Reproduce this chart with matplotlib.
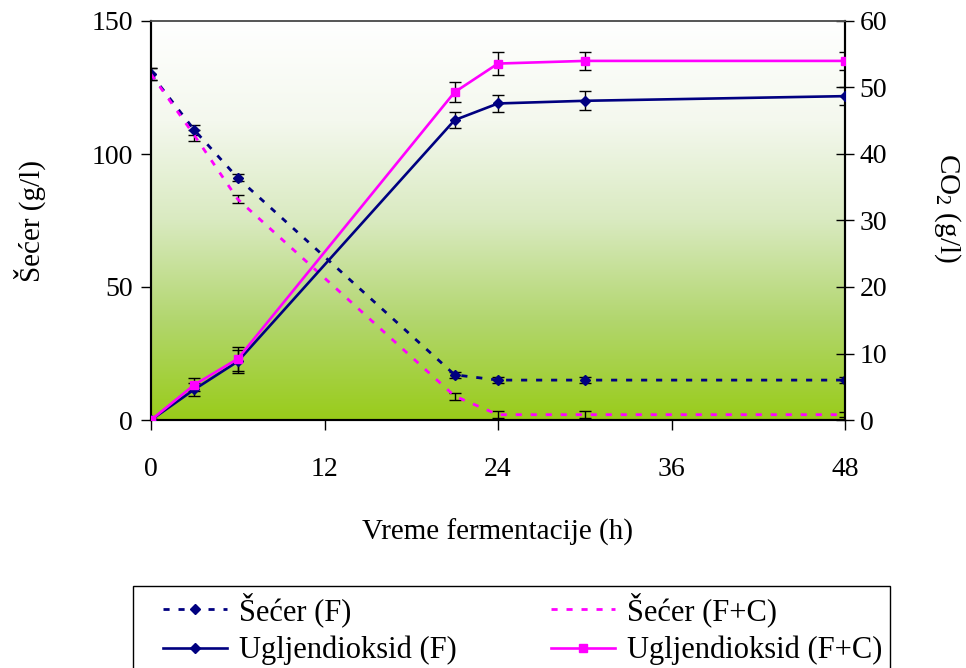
import numpy as np
import matplotlib
matplotlib.use("Agg")
import matplotlib.pyplot as plt
from matplotlib.colors import LinearSegmentedColormap
from matplotlib.patches import Rectangle

plt.rcParams['font.family'] = ['Liberation Serif', 'DejaVu Serif']
plt.rcParams['mathtext.fontset'] = 'custom'
plt.rcParams['mathtext.rm'] = 'Liberation Serif'

# Fermentation time (h)
hours = [0, 3, 6, 21, 24, 30, 48]

# Sugar (g/l)
sugar_f = [130, 109, 91, 17, 15, 15, 15]
sugar_f_err = [2.2, 2.0, 1.3, 1.2, 1.0, 1.0, 1.0]
sugar_fc = [130, 107, 83, 9, 2, 2, 2]
sugar_fc_err = [2.2, 2.0, 1.5, 1.3, 1.2, 1.2, 1.0]

# Carbon dioxide (g/l)
co2_f = [0, 4.6, 8.8, 45.1, 47.6, 48.0, 48.7]
co2_f_err = [0.2, 1.0, 1.8, 1.2, 1.3, 1.4, 1.4]
co2_fc = [0, 5.3, 9.2, 49.3, 53.6, 54.0, 54.0]
co2_fc_err = [0.2, 1.0, 1.8, 1.5, 1.7, 1.3, 1.3]

x_ticks = [0, 12, 24, 36, 48]
sugar_ticks = [0, 50, 100, 150]
co2_ticks = [0, 10, 20, 30, 40, 50, 60]

labels = ['Šećer (F)', 'Šećer (F+C)', 'Ugljendioksid (F)', 'Ugljendioksid (F+C)']

NAVY = '#000080'
MAGENTA = '#FF00FF'
FS = 20
LFS = 21
LEG_FS = 22

fig = plt.figure(figsize=(9.66, 6.68), dpi=100)
ax = fig.add_axes([151/966, 1-420/668, (845-151)/966, (420-21)/668])
ax2 = ax.twinx()

# gradient background (white at top to yellow-green at bottom)
cmap = LinearSegmentedColormap.from_list('bg', ['#FFFFFF', '#F4F8EE', '#D9EAC0', '#B2D66E', '#99CC1A'])
grad = np.linspace(0, 1, 256).reshape(-1, 1)
ax.imshow(grad, aspect='auto', cmap=cmap, extent=[0, 1, 0, 1], origin='upper',
          transform=ax.transAxes, zorder=0)

err_kw = dict(ecolor='black', elinewidth=1.0, capsize=4, capthick=1.0)
dash = (0, (2.2, 3.2))

l1 = ax.errorbar(hours, sugar_f, yerr=sugar_f_err, color=NAVY, lw=2.0,
                 ls=dash, marker='D', ms=5, zorder=3, **err_kw)
l2 = ax.errorbar(hours, sugar_fc, yerr=sugar_fc_err, color=MAGENTA, lw=2.0,
                 ls=dash, marker=None, zorder=3, **err_kw)
l3 = ax2.errorbar(hours, co2_f, yerr=co2_f_err, color=NAVY, lw=1.9,
                  ls='-', marker='D', ms=5, zorder=3, **err_kw)
l4 = ax2.errorbar(hours, co2_fc, yerr=co2_fc_err, color=MAGENTA, lw=1.9,
                  ls='-', marker='s', ms=6, zorder=3, **err_kw)

ax.set_xlim(0, 48)
ax.set_ylim(0, 150)
ax2.set_ylim(0, 60)
ax.set_xticks(x_ticks)
ax.set_yticks(sugar_ticks)
ax2.set_yticks(co2_ticks)

ax.tick_params(axis='x', direction='out', length=7, width=1, labelsize=FS, pad=20)
ax.tick_params(axis='y', direction='out', length=7, width=1, labelsize=FS, pad=6)
ax2.tick_params(axis='y', direction='inout', length=13, width=1, labelsize=FS, pad=4)

for a in (ax, ax2):
    a.spines['left'].set_linewidth(1.5)
    a.spines['right'].set_linewidth(1.5)
    a.spines['bottom'].set_linewidth(1.5)
    a.spines['top'].set_linewidth(1.2)
    a.spines['top'].set_color('#555555')

ax.set_xlabel('Vreme fermentacije (h)', fontsize=LFS, labelpad=26)
ax.set_ylabel('Šećer (g/l)', fontsize=LFS, rotation=90, ha='center', va='center')
ax.yaxis.set_label_coords(-0.174, 0.5)
ax2.set_ylabel('CO$\\mathregular{_2}$ (g/l)', fontsize=LFS, rotation=270,
               ha='center', va='center')
ax2.yaxis.set_label_coords(1.148, 0.531)

# legend frame, running past the lower edge of the figure
fig.add_artist(Rectangle((133/966, -0.05), (890-133)/966, 1-586/668+0.05,
                         transform=fig.transFigure, fill=False,
                         edgecolor='black', lw=1.0, clip_on=False))

handles = [l1[0], l3[0], l2[0], l4[0]]
order_labels = [labels[0], labels[2], labels[1], labels[3]]
leg = fig.legend(handles, order_labels, ncol=2, loc='upper left',
                 bbox_to_anchor=(163/966, 1-592/668), fontsize=LEG_FS,
                 frameon=False, handlelength=2.1, handletextpad=0.4,
                 columnspacing=3.07, borderpad=0, labelspacing=0.3,
                 borderaxespad=0)

fig.savefig('out.png', dpi=100)
